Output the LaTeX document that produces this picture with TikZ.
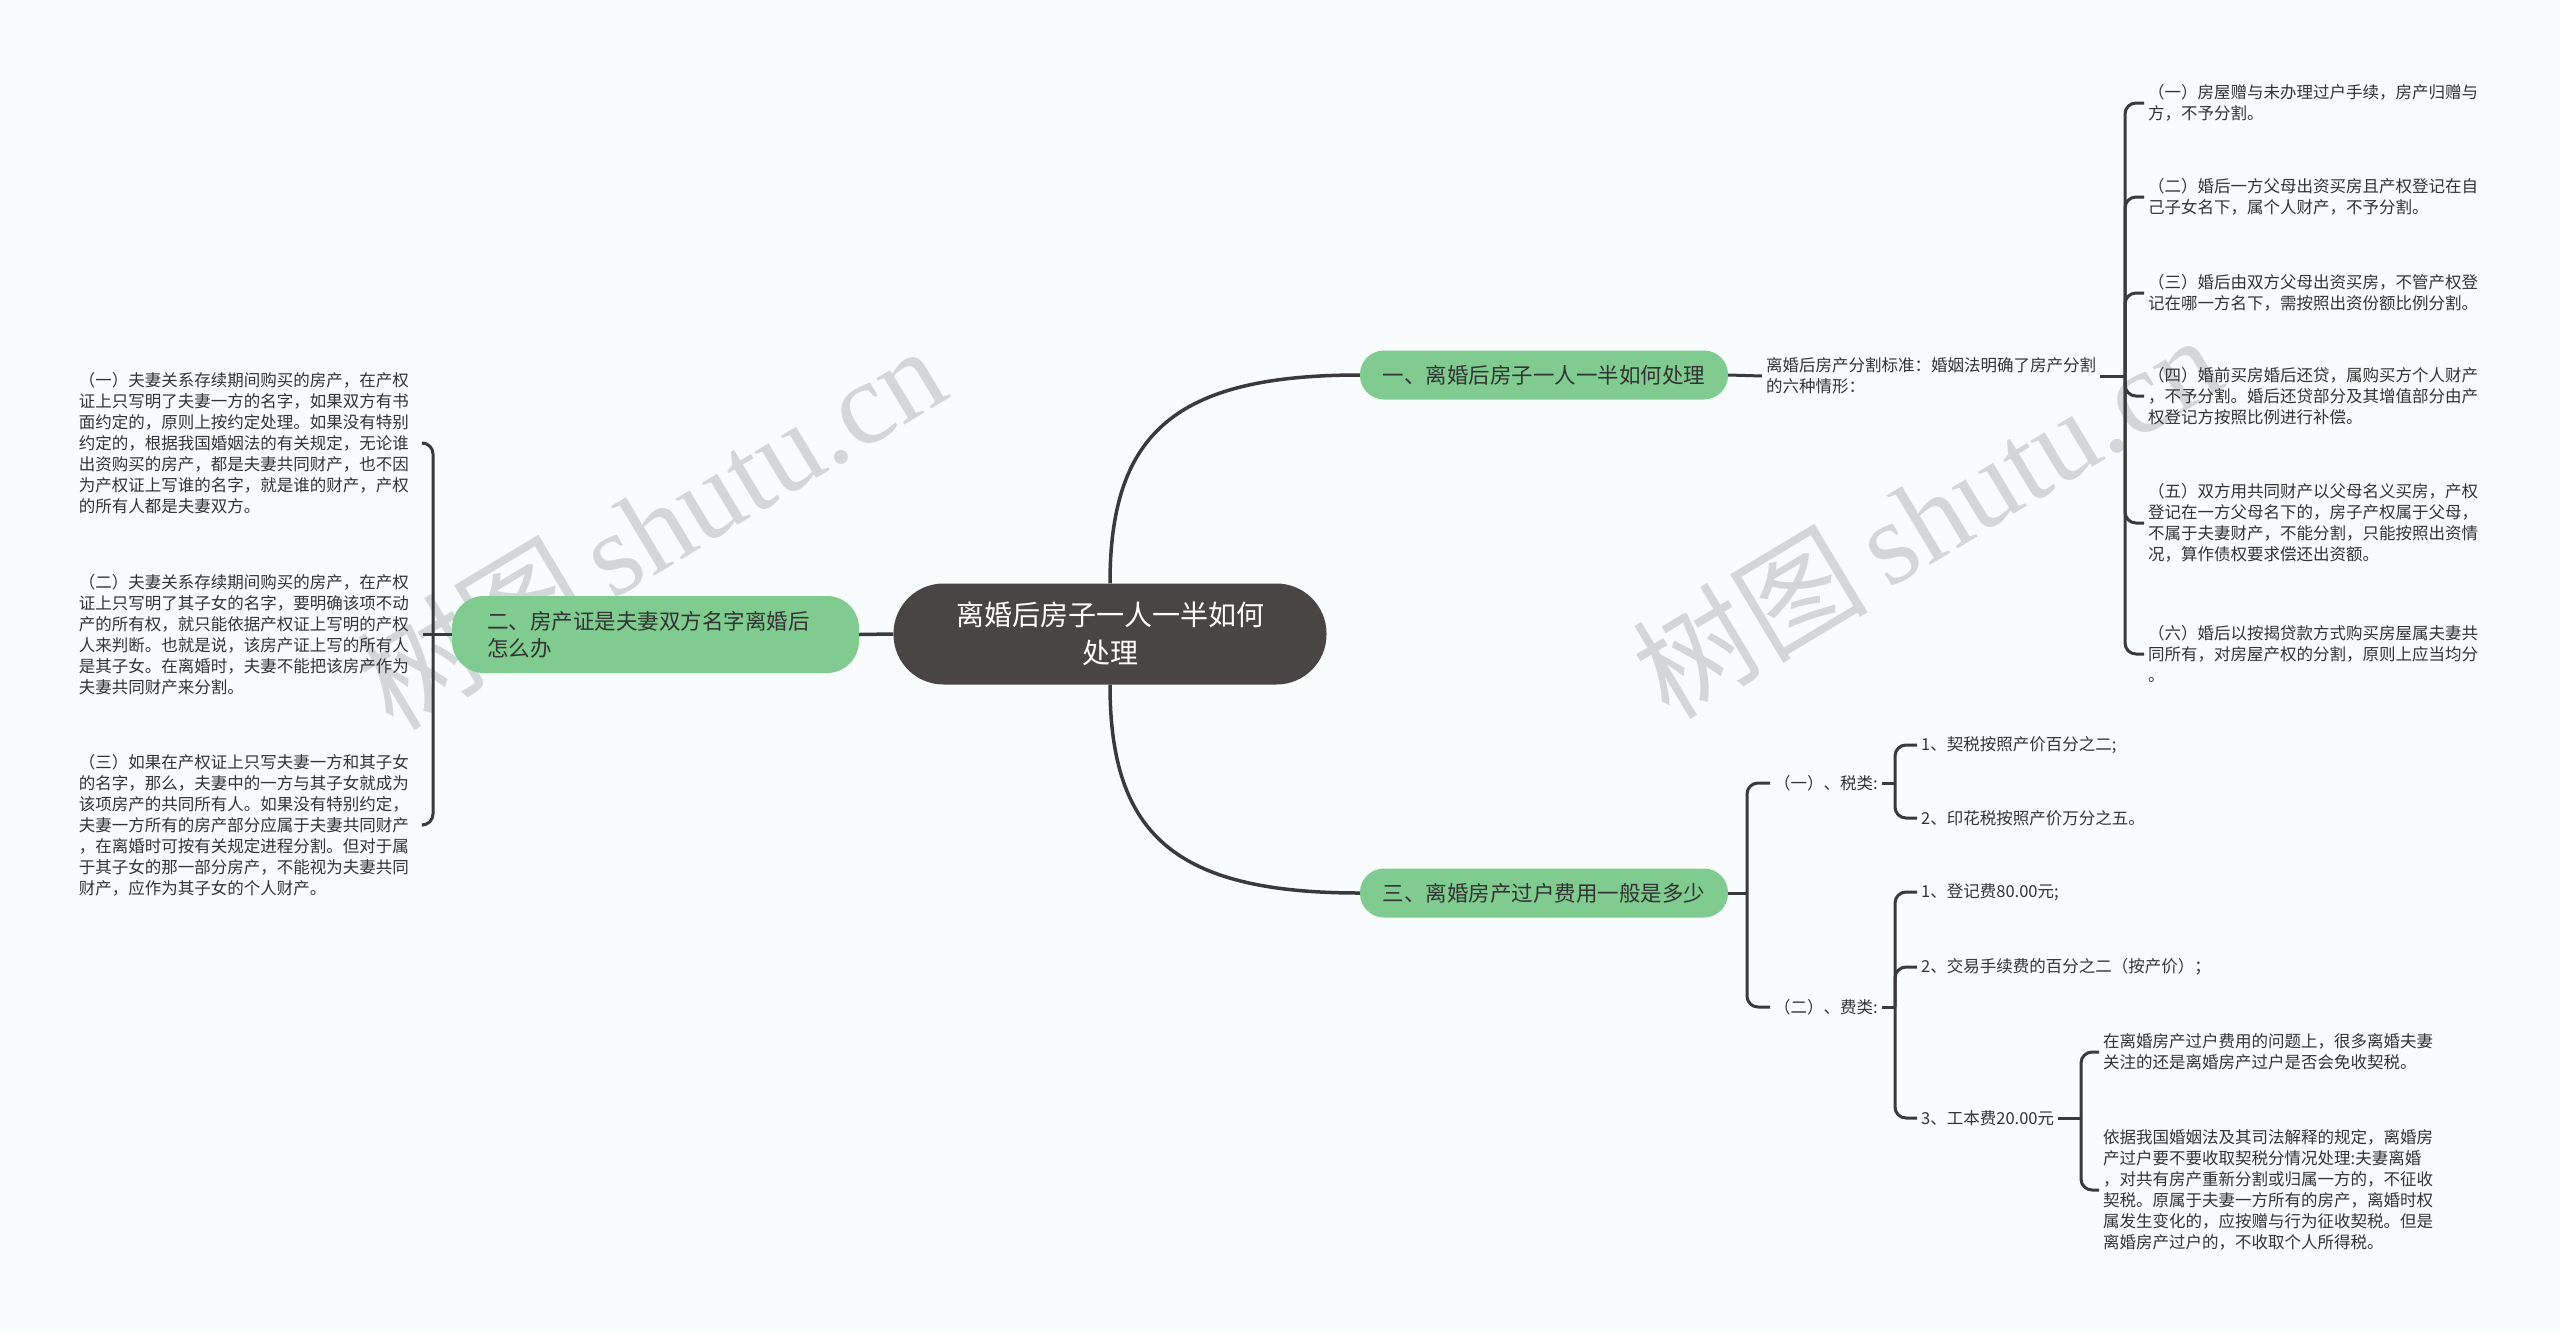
\documentclass[tikz,border=0pt]{standalone}
\usepackage{fontspec}
\setmainfont{Noto Sans CJK SC}
\newfontfamily\wmcjk{Noto Sans CJK SC}
\newfontfamily\wmlatin{Liberation Serif}
\definecolor{bgc}{HTML}{F8FCFD}
\definecolor{nodegreen}{HTML}{80CB8F}
\definecolor{darknode}{HTML}{4A4545}
\definecolor{linec}{HTML}{3A3A3A}
\definecolor{textdark}{HTML}{333333}
\definecolor{wmgray}{HTML}{CDD1D4}
\begin{document}
\begin{tikzpicture}[x=1pt,y=-1pt,
  conn/.style={draw=linec, line width=3pt, rounded corners=11pt},
  plainconn/.style={draw=linec, line width=3pt},
  mainconn/.style={draw=linec, line width=3.5pt},
  centralnode/.style={fill=darknode, rounded corners=50pt, minimum width=433pt, minimum height=101pt,
    text=white, align=center, font=\fontsize{28}{38}\selectfont, inner sep=0pt},
  greennode/.style={fill=nodegreen, rounded corners=24pt, minimum width=368pt, minimum height=49pt,
    text=textdark, align=center, font=\fontsize{21.5}{27}\selectfont, inner sep=0pt},
  smalltext/.style={text=textdark, align=left, font=\fontsize{16.5}{21}\selectfont, inner sep=4pt},
  wm/.style={text=wmgray, opacity=0.85, rotate=31, inner sep=0pt}
]
\path[fill=bgc] (0,0) rectangle (2560,1331);
\useasboundingbox (0,0) rectangle (2560,1331);

% watermarks
\node[wm] (wm1) at (650,526) {\fontsize{118}{118}\selectfont\wmcjk 树图\,\wmlatin shutu.cn};
\node[wm] (wm2) at (1926,515) {\fontsize{118}{118}\selectfont\wmcjk 树图\,\wmlatin shutu.cn};

% main nodes
\node[centralnode] (C) at (1110,634) {离婚后房子一人一半如何\\处理};
\node[greennode, rounded corners=32pt, minimum width=407pt, minimum height=77pt, text width=337pt,
  align=left, inner xsep=35pt] (L) at (655.5,634.5) {二、房产证是夫妻双方名字离婚后\\怎么办};
\node[greennode] (R1) at (1544,375) {一、离婚后房子一人一半如何处理};
\node[greennode] (R3) at (1544,893) {三、离婚房产过户费用一般是多少};

% right top text
\node[smalltext, anchor=west] (S) at (1762,376) {离婚后房产分割标准：婚姻法明确了房产分割\\的六种情形：};

\node[smalltext, anchor=west] (A1) at (2144,103) {（一）房屋赠与未办理过户手续，房产归赠与\\方，不予分割。};
\node[smalltext, anchor=west] (A2) at (2144,197) {（二）婚后一方父母出资买房且产权登记在自\\己子女名下，属个人财产，不予分割。};
\node[smalltext, anchor=west] (A3) at (2144,293) {（三）婚后由双方父母出资买房，不管产权登\\记在哪一方名下，需按照出资份额比例分割。};
\node[smalltext, anchor=west] (A4) at (2144,396) {（四）婚前买房婚后还贷，属购买方个人财产\\，不予分割。婚后还贷部分及其增值部分由产\\权登记方按照比例进行补偿。};
\node[smalltext, anchor=west] (A5) at (2144,523) {（五）双方用共同财产以父母名义买房，产权\\登记在一方父母名下的，房子产权属于父母，\\不属于夫妻财产，不能分割，只能按照出资情\\况，算作债权要求偿还出资额。};
\node[smalltext, anchor=west] (A6) at (2144,654) {（六）婚后以按揭贷款方式购买房屋属夫妻共\\同所有，对房屋产权的分割，原则上应当均分\\。};

% left texts
\node[smalltext, anchor=east, text width=340pt] (P1) at (423,443) {（一）夫妻关系存续期间购买的房产，在产权\\证上只写明了夫妻一方的名字，如果双方有书\\面约定的，原则上按约定处理。如果没有特别\\约定的，根据我国婚姻法的有关规定，无论谁\\出资购买的房产，都是夫妻共同财产，也不因\\为产权证上写谁的名字，就是谁的财产，产权\\的所有人都是夫妻双方。};
\node[smalltext, anchor=east, text width=340pt] (P2) at (423,634.5) {（二）夫妻关系存续期间购买的房产，在产权\\证上只写明了其子女的名字，要明确该项不动\\产的所有权，就只能依据产权证上写明的产权\\人来判断。也就是说，该房产证上写的所有人\\是其子女。在离婚时，夫妻不能把该房产作为\\夫妻共同财产来分割。};
\node[smalltext, anchor=east, text width=340pt] (P3) at (423,825) {（三）如果在产权证上只写夫妻一方和其子女\\的名字，那么，夫妻中的一方与其子女就成为\\该项房产的共同所有人。如果没有特别约定，\\夫妻一方所有的房产部分应属于夫妻共同财产\\，在离婚时可按有关规定进程分割。但对于属\\于其子女的那一部分房产，不能视为夫妻共同\\财产，应作为其子女的个人财产。};

% bottom right
\node[smalltext, anchor=west] (T1) at (1770,783) {（一）、税类:};
\node[smalltext, anchor=west] (T2) at (1770,1007) {（二）、费类:};
\node[smalltext, anchor=west] (U1) at (1917,745) {1、契税按照产价百分之二;};
\node[smalltext, anchor=west] (U2) at (1917,818) {2、印花税按照产价万分之五。};
\node[smalltext, anchor=west] (V1) at (1917,892) {1、登记费80.00元;};
\node[smalltext, anchor=west] (V2) at (1917,967) {2、交易手续费的百分之二（按产价）；};
\node[smalltext, anchor=west] (V3) at (1917,1118) {3、工本费20.00元};
\node[smalltext, anchor=west] (W1) at (2099,1052) {在离婚房产过户费用的问题上，很多离婚夫妻\\关注的还是离婚房产过户是否会免收契税。};
\node[smalltext, anchor=west] (W2) at (2099,1190) {依据我国婚姻法及其司法解释的规定，离婚房\\产过户要不要收取契税分情况处理:夫妻离婚\\，对共有房产重新分割或归属一方的，不征收\\契税。原属于夫妻一方所有的房产，离婚时权\\属发生变化的，应按赠与行为征收契税。但是\\离婚房产过户的，不收取个人所得税。};

% bracket junction coordinates
\coordinate (bS) at (2125,376);
\coordinate (bL) at (433,634.5);
\coordinate (bR3) at (1747,893);
\coordinate (bT1) at (1895,783);
\coordinate (bT2) at (1895,1007);
\coordinate (bV3) at (2081,1118);

% central connectors
\draw[mainconn] (C.north) .. controls +(0,-150) and +(-185,0) .. (R1.west);
\draw[mainconn] (C.south) .. controls +(0,150) and +(-185,0) .. (R3.west);
\draw[mainconn] (C.west) -- (L.east);

% R1 branch
\draw[plainconn] (R1.east) -- (S.west);
\draw[plainconn] (S.east) -- (bS);
\foreach \n in {A1,A2,A3,A4,A5,A6} \draw[conn] (bS) |- (\n.west);

% left branch
\draw[plainconn] (L.west) -- (bL);
\draw[conn] (bL) |- (P1.east);
\draw[plainconn] (bL) -- (P2.east);
\draw[conn] (bL) |- (P3.east);

% R3 branch
\draw[plainconn] (R3.east) -- (bR3);
\draw[conn] (bR3) |- (T1.west);
\draw[conn] (bR3) |- (T2.west);
\draw[plainconn] (T1.east) -- (bT1);
\draw[conn] (bT1) |- (U1.west);
\draw[conn] (bT1) |- (U2.west);
\draw[plainconn] (T2.east) -- (bT2);
\draw[conn] (bT2) |- (V1.west);
\draw[conn] (bT2) |- (V2.west);
\draw[conn] (bT2) |- (V3.west);
\draw[plainconn] (V3.east) -- (bV3);
\draw[conn] (bV3) |- (W1.west);
\draw[conn] (bV3) |- (W2.west);
\end{tikzpicture}
\end{document}
